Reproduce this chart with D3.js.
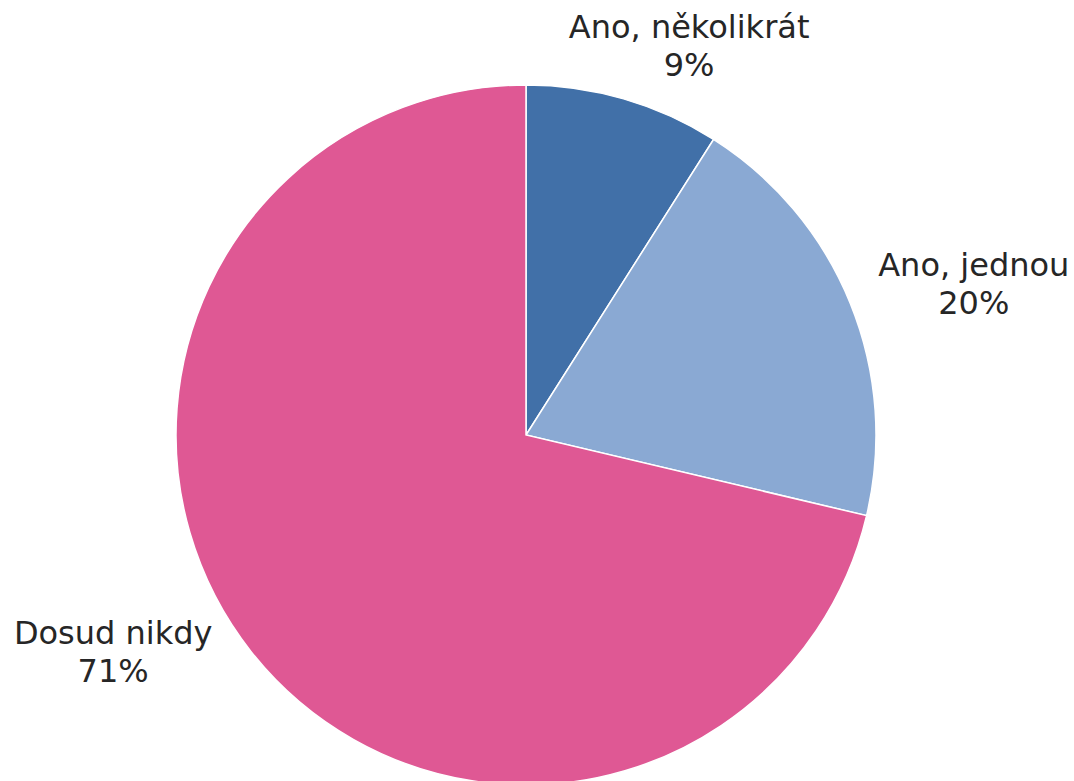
<!DOCTYPE html>
<html>
<head>
<meta charset="utf-8">
<script src="https://cdn.jsdelivr.net/npm/d3@7"></script>
<style>
  html, body { margin: 0; padding: 0; background: #fff; }
  svg { display: block; }
</style>
</head>
<body>
<div id="chart"></div>
<script>
const categories = ["Ano, několikrát", "Ano, jednou", "Dosud nikdy"];
const values = [9.0, 19.7, 71.3];
const colors = ["#4170a8", "#8aa9d3", "#df5894"];

const width = 1074, height = 781;
const cx = 526, cy = 435, radius = 350;

const data = categories.map((c, i) => ({ name: c, value: values[i], color: colors[i] }));

const svg = d3.select("#chart")
  .append("svg")
  .attr("width", width)
  .attr("height", height);

const g = svg.append("g")
  .attr("transform", `translate(${cx},${cy})`);

const pie = d3.pie()
  .value(d => d.value)
  .sort(null);

const arc = d3.arc()
  .innerRadius(0)
  .outerRadius(radius);

const arcs = pie(data);

g.selectAll("path")
  .data(arcs)
  .enter()
  .append("path")
  .attr("d", arc)
  .attr("fill", d => d.data.color)
  .attr("stroke", "#fff")
  .attr("stroke-width", 1.5);

// labels sit outside the pie, placed along their own angle/radius like excel does
const labelLayout = [
  { angle: 0.405, dist: 414 },
  { angle: 1.262, dist: 470 },
  { angle: 4.214, dist: 470 }
];

const labels = g.selectAll(".label")
  .data(arcs)
  .enter()
  .append("text")
  .attr("class", "label")
  .attr("text-anchor", "middle")
  .attr("font-family", "'DejaVu Sans', Verdana, sans-serif")
  .attr("font-size", 32)
  .attr("fill", "#262626")
  .attr("transform", (d, i) => {
    const l = labelLayout[i];
    const x = Math.sin(l.angle) * l.dist;
    const y = -Math.cos(l.angle) * l.dist;
    return `translate(${x},${y})`;
  });

labels.append("tspan")
  .attr("x", 0)
  .attr("y", -16)
  .text(d => d.data.name);

labels.append("tspan")
  .attr("x", 0)
  .attr("y", 22)
  .text(d => Math.round(d.data.value) + "%");
</script>
</body>
</html>
